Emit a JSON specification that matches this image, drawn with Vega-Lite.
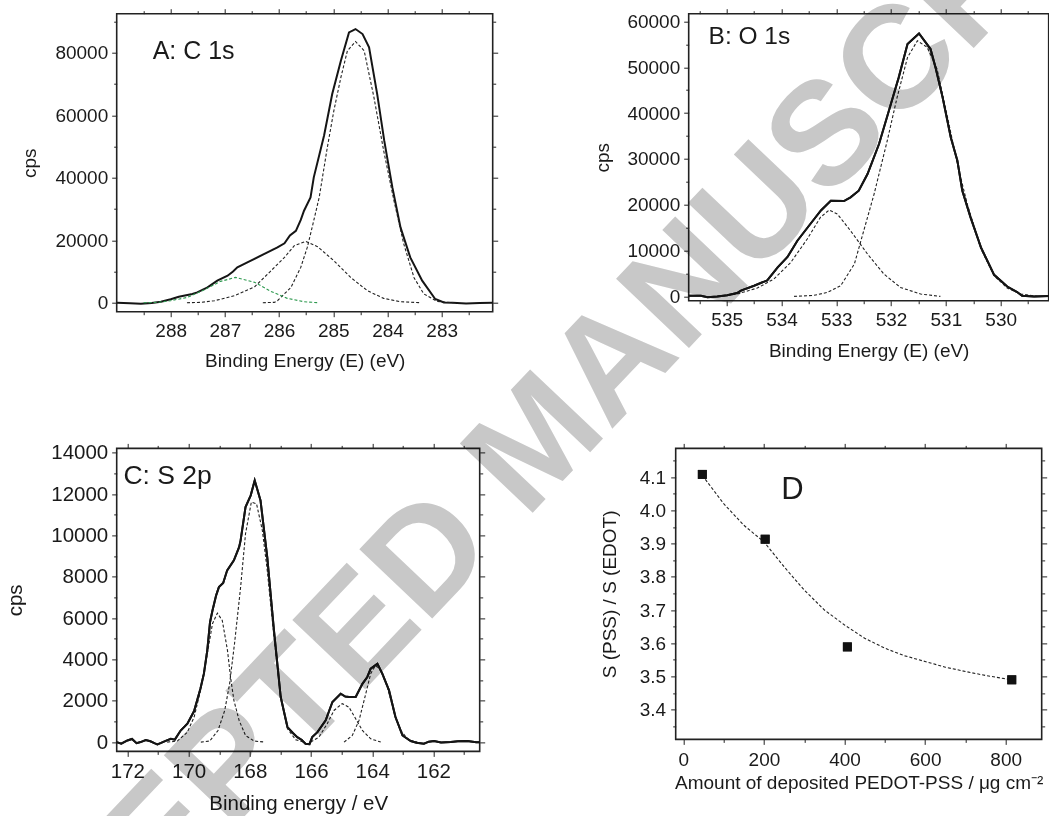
{
"$schema": "https://vega.github.io/schema/vega-lite/v6.json",
"background": "white",
"padding": {"left": -141.3, "top": -268.3, "right": -168.3, "bottom": -336},
"spacing": -640.3,
"align": "each",
"bounds": "full",
"config": {
  "font": "Liberation Sans",
  "view": {"stroke": "#222", "strokeWidth": 1.6},
  "axis": {"domain": false, "grid": false, "ticks": true, "tickColor": "#222", "tickWidth": 1, "tickSize": 5, "labelColor": "#1a1a1a", "titleColor": "#1a1a1a", "labelFontSize": 19, "titleFontSize": 19, "titleFontWeight": "normal", "labelFlush": false, "labelOverlap": false, "labelFont": "Liberation Sans", "titleFont": "Liberation Sans", "labelPadding": 4}
},
"datasets": {
  "a_tot": [{"e":288.99,"c":0},{"e":288.75,"c":-150},{"e":288.55,"c":-300},{"e":288.35,"c":-100},{"e":288.18,"c":320},{"e":288.0,"c":1100},{"e":287.85,"c":1900},{"e":287.76,"c":2240},{"e":287.6,"c":2800},{"e":287.51,"c":3300},{"e":287.32,"c":4900},{"e":287.14,"c":7040},{"e":286.95,"c":8640},{"e":286.85,"c":10000},{"e":286.77,"c":11300},{"e":286.52,"c":13440},{"e":286.28,"c":15570},{"e":286.03,"c":17700},{"e":285.9,"c":19000},{"e":285.8,"c":21500},{"e":285.69,"c":23000},{"e":285.6,"c":26500},{"e":285.54,"c":29440},{"e":285.42,"c":33700},{"e":285.36,"c":40100},{"e":285.17,"c":53500},{"e":285.02,"c":66770},{"e":284.86,"c":77440},{"e":284.71,"c":86500},{"e":284.59,"c":87570},{"e":284.46,"c":85970},{"e":284.34,"c":81700},{"e":284.19,"c":66770},{"e":284.06,"c":51840},{"e":283.91,"c":36900},{"e":283.76,"c":24100},{"e":283.58,"c":14500},{"e":283.36,"c":7040},{"e":283.12,"c":1170},{"e":282.96,"c":100},{"e":282.8,"c":0},{"e":282.55,"c":-250},{"e":282.3,"c":-100},{"e":282.06,"c":0}],
  "a_comp": [{"s":1,"e":286.3,"c":0},{"s":1,"e":286.09,"c":100},{"s":1,"e":286.03,"c":640},{"s":1,"e":285.78,"c":4900},{"s":1,"e":285.6,"c":11300},{"s":1,"e":285.48,"c":17700},{"s":1,"e":285.39,"c":24100},{"s":1,"e":285.26,"c":33700},{"s":1,"e":285.11,"c":49700},{"s":1,"e":284.99,"c":61400},{"s":1,"e":284.86,"c":72100},{"s":1,"e":284.74,"c":80600},{"s":1,"e":284.59,"c":83600},{"s":1,"e":284.43,"c":80600},{"s":1,"e":284.25,"c":65700},{"s":1,"e":284.07,"c":48600},{"s":1,"e":283.88,"c":32600},{"s":1,"e":283.7,"c":18800},{"s":1,"e":283.51,"c":8000},{"s":1,"e":283.33,"c":2800},{"s":1,"e":283.08,"c":400},{"s":1,"e":282.78,"c":0},
    {"s":2,"e":287.7,"c":0},{"s":2,"e":287.44,"c":100},{"s":2,"e":287.19,"c":640},{"s":2,"e":286.82,"c":2240},{"s":2,"e":286.45,"c":5120},{"s":2,"e":286.21,"c":9170},{"s":2,"e":285.9,"c":14500},{"s":2,"e":285.72,"c":18240},{"s":2,"e":285.51,"c":19630},{"s":2,"e":285.29,"c":17920},{"s":2,"e":284.99,"c":13440},{"s":2,"e":284.68,"c":8100},{"s":2,"e":284.37,"c":3840},{"s":2,"e":284.07,"c":1390},{"s":2,"e":283.76,"c":320},{"s":2,"e":283.39,"c":0}],
  "a_green": [{"e":288.5,"c":0},{"e":288.25,"c":100},{"e":288.0,"c":640},{"e":287.69,"c":1700},{"e":287.39,"c":4050},{"e":287.08,"c":6830},{"e":286.8,"c":8100},{"e":286.45,"c":6510},{"e":286.15,"c":3620},{"e":285.85,"c":1390},{"e":285.54,"c":320},{"e":285.29,"c":0}],
  "b_tot": [{"e":535.69,"c":150},{"e":535.47,"c":145},{"e":535.35,"c":-200},{"e":535.17,"c":0},{"e":534.99,"c":250},{"e":534.81,"c":730},{"e":534.74,"c":1250},{"e":534.5,"c":2330},{"e":534.26,"c":3500},{"e":534.07,"c":6330},{"e":533.89,"c":8600},{"e":533.71,"c":12150},{"e":533.47,"c":15850},{"e":533.28,"c":18750},{"e":533.1,"c":20870},{"e":532.86,"c":20800},{"e":532.74,"c":21600},{"e":532.59,"c":23060},{"e":532.43,"c":26700},{"e":532.22,"c":33240},{"e":532.04,"c":40520},{"e":531.86,"c":47790},{"e":531.7,"c":55060},{"e":531.49,"c":57380},{"e":531.28,"c":53970},{"e":531.19,"c":49970},{"e":531.06,"c":43420},{"e":530.91,"c":34690},{"e":530.79,"c":29600},{"e":530.7,"c":23060},{"e":530.55,"c":17240},{"e":530.36,"c":10690},{"e":530.12,"c":4700},{"e":529.88,"c":2150},{"e":529.7,"c":950},{"e":529.61,"c":145},{"e":529.39,"c":0},{"e":529.12,"c":70}],
  "b_comp": [{"s":1,"e":535.17,"c":0},{"s":1,"e":534.81,"c":510},{"s":1,"e":534.44,"c":1820},{"s":1,"e":534.14,"c":3780},{"s":1,"e":533.83,"c":7420},{"s":1,"e":533.53,"c":12510},{"s":1,"e":533.29,"c":17240},{"s":1,"e":533.13,"c":18840},{"s":1,"e":532.98,"c":17960},{"s":1,"e":532.74,"c":14330},{"s":1,"e":532.43,"c":9240},{"s":1,"e":532.13,"c":4870},{"s":1,"e":531.83,"c":1960},{"s":1,"e":531.46,"c":510},{"s":1,"e":531.1,"c":0},
    {"s":2,"e":533.77,"c":0},{"s":2,"e":533.41,"c":220},{"s":2,"e":533.16,"c":870},{"s":2,"e":532.92,"c":2330},{"s":2,"e":532.67,"c":7050},{"s":2,"e":532.55,"c":12150},{"s":2,"e":532.31,"c":22330},{"s":2,"e":532.07,"c":33960},{"s":2,"e":531.89,"c":43420},{"s":2,"e":531.7,"c":52150},{"s":2,"e":531.52,"c":55780},{"s":2,"e":531.34,"c":54330},{"s":2,"e":531.16,"c":49600},{"s":2,"e":530.97,"c":39060},{"s":2,"e":530.79,"c":28870},{"s":2,"e":530.61,"c":20150},{"s":2,"e":530.36,"c":10330},{"s":2,"e":530.12,"c":4510},{"s":2,"e":529.88,"c":1820},{"s":2,"e":529.63,"c":510},{"s":2,"e":529.33,"c":0}],
  "c_tot": [{"e":172.49,"c":80},{"e":172.35,"c":0},{"e":172.2,"c":-80},{"e":172.0,"c":80},{"e":171.85,"c":150},{"e":171.7,"c":-50},{"e":171.57,"c":0},{"e":171.4,"c":100},{"e":171.25,"c":40},{"e":171.1,"c":-60},{"e":171.02,"c":-110},{"e":170.9,"c":-40},{"e":170.75,"c":60},{"e":170.58,"c":160},{"e":170.45,"c":120},{"e":170.26,"c":560},{"e":170.04,"c":890},{"e":169.82,"c":1500},{"e":169.61,"c":2600},{"e":169.5,"c":3310},{"e":169.39,"c":4440},{"e":169.3,"c":5800},{"e":169.22,"c":6370},{"e":169.1,"c":7100},{"e":169.01,"c":7500},{"e":168.87,"c":7700},{"e":168.74,"c":8310},{"e":168.52,"c":8790},{"e":168.35,"c":9430},{"e":168.3,"c":9760},{"e":168.14,"c":11370},{"e":167.97,"c":11940},{"e":167.84,"c":12660},{"e":167.65,"c":11690},{"e":167.43,"c":8950},{"e":167.21,"c":5400},{"e":166.99,"c":2180},{"e":166.77,"c":726},{"e":166.6,"c":450},{"e":166.45,"c":240},{"e":166.3,"c":100},{"e":166.18,"c":-80},{"e":166.05,"c":-100},{"e":165.96,"c":240},{"e":165.79,"c":480},{"e":165.52,"c":1050},{"e":165.3,"c":1940},{"e":165.03,"c":2340},{"e":164.88,"c":2200},{"e":164.76,"c":2180},{"e":164.54,"c":2180},{"e":164.32,"c":2820},{"e":164.16,"c":3150},{"e":164.05,"c":3550},{"e":163.83,"c":3790},{"e":163.67,"c":3310},{"e":163.45,"c":2500},{"e":163.24,"c":1210},{"e":163.01,"c":320},{"e":162.74,"c":50},{"e":162.55,"c":-30},{"e":162.31,"c":-80},{"e":162.15,"c":20},{"e":161.98,"c":50},{"e":161.75,"c":-20},{"e":161.43,"c":0},{"e":161.2,"c":40},{"e":160.89,"c":50},{"e":160.6,"c":-10},{"e":160.36,"c":0}],
  "c_comp": [{"s":1,"e":170.7,"c":0},{"s":1,"e":170.37,"c":50},{"s":1,"e":170.04,"c":480},{"s":1,"e":169.82,"c":1210},{"s":1,"e":169.61,"c":2500},{"s":1,"e":169.39,"c":4270},{"s":1,"e":169.22,"c":5730},{"s":1,"e":169.06,"c":6240},{"s":1,"e":168.9,"c":5890},{"s":1,"e":168.73,"c":4440},{"s":1,"e":168.63,"c":3150},{"s":1,"e":168.52,"c":2020},{"s":1,"e":168.35,"c":1050},{"s":1,"e":168.14,"c":320},{"s":1,"e":167.86,"c":50},{"s":1,"e":167.5,"c":0},
    {"s":2,"e":169.6,"c":0},{"s":2,"e":169.31,"c":50},{"s":2,"e":169.04,"c":560},{"s":2,"e":168.82,"c":1530},{"s":2,"e":168.66,"c":2820},{"s":2,"e":168.5,"c":4760},{"s":2,"e":168.3,"c":7500},{"s":2,"e":168.14,"c":10080},{"s":2,"e":167.95,"c":11610},{"s":2,"e":167.78,"c":11530},{"s":2,"e":167.59,"c":10240},{"s":2,"e":167.43,"c":8310},{"s":2,"e":167.21,"c":5080},{"s":2,"e":166.99,"c":2180},{"s":2,"e":166.77,"c":650},{"s":2,"e":166.5,"c":110},{"s":2,"e":166.23,"c":0},
    {"s":3,"e":166.01,"c":0},{"s":3,"e":165.74,"c":240},{"s":3,"e":165.47,"c":890},{"s":3,"e":165.25,"c":1530},{"s":3,"e":164.98,"c":1860},{"s":3,"e":164.76,"c":1690},{"s":3,"e":164.54,"c":1130},{"s":3,"e":164.32,"c":560},{"s":3,"e":164.05,"c":160},{"s":3,"e":163.72,"c":0},
    {"s":4,"e":164.92,"c":0},{"s":4,"e":164.65,"c":320},{"s":4,"e":164.43,"c":1050},{"s":4,"e":164.21,"c":2340},{"s":4,"e":164.05,"c":3310},{"s":4,"e":163.89,"c":3710},{"s":4,"e":163.72,"c":3470},{"s":4,"e":163.5,"c":2660},{"s":4,"e":163.29,"c":1450},{"s":4,"e":163.07,"c":560},{"s":4,"e":162.8,"c":80},{"s":4,"e":162.52,"c":0}],
  "d_pts": [{"a":47,"r":4.108},{"a":203,"r":3.913},{"a":407,"r":3.589},{"a":815,"r":3.49}],
  "d_fit": [{"a":47,"r":4.105},{"a":100,"r":4.02},{"a":150,"r":3.955},{"a":200,"r":3.905},{"a":250,"r":3.83},{"a":300,"r":3.76},{"a":350,"r":3.70},{"a":400,"r":3.655},{"a":450,"r":3.615},{"a":500,"r":3.585},{"a":550,"r":3.562},{"a":600,"r":3.545},{"a":650,"r":3.528},{"a":700,"r":3.515},{"a":750,"r":3.503},{"a":815,"r":3.49}]
},
"vconcat": [
 {"hconcat": [
  {
    "width": 376, "height": 298,
    "layer": [
      {"data": {"name": "a_tot"}, "mark": {"type": "line", "color": "#151515", "strokeWidth": 2, "clip": true},
       "encoding": {
         "x": {"field": "e", "type": "quantitative", "scale": {"domain": [282.059, 288.996], "reverse": true, "nice": false, "zero": false},
               "axis": {"orient": "bottom", "values": [283,284,285,286,287,288], "format": "d", "title": "Binding Energy (E) (eV)", "labelPadding": 5, "titlePadding": 11}},
         "y": {"field": "c", "type": "quantitative", "scale": {"domain": [-2880, 92480], "nice": false, "zero": false},
               "axis": {"orient": "left", "values": [0,20000,40000,60000,80000], "format": "d", "title": "cps", "titlePadding": 15.7}}}},
      {"data": {"name": "a_comp"}, "mark": {"type": "line", "color": "#222", "strokeWidth": 1.1, "strokeDash": [3,2], "clip": true},
       "encoding": {
         "x": {"field": "e", "type": "quantitative", "scale": {"domain": [282.059, 288.996], "reverse": true, "nice": false, "zero": false},
               "axis": {"orient": "top", "values": [283,284,285,286,287,288], "labels": false, "title": null}},
         "y": {"field": "c", "type": "quantitative", "scale": {"domain": [-2880, 92480], "nice": false, "zero": false},
               "axis": {"orient": "right", "values": [0,20000,40000,60000,80000], "labels": false, "title": null}},
         "detail": {"field": "s"}}},
      {"data": {"name": "a_green"}, "mark": {"type": "line", "color": "#2f9a50", "strokeWidth": 1.1, "strokeDash": [3,2], "clip": true},
       "encoding": {
         "x": {"field": "e", "type": "quantitative", "scale": {"domain": [282.059, 288.996], "reverse": true, "nice": false, "zero": false},
               "axis": {"orient": "bottom", "values": [282.5,283.5,284.5,285.5,286.5,287.5,288.5], "labels": false, "tickSize": 3, "title": null}},
         "y": {"field": "c", "type": "quantitative", "scale": {"domain": [-2880, 92480], "nice": false, "zero": false},
               "axis": {"orient": "left", "values": [10000,30000,50000,70000,90000], "labels": false, "tickSize": 3, "title": null}}}},
      {"mark": {"type": "rule", "color": "#23234d", "strokeWidth": 1.5},
       "encoding": {"y": {"datum": 0, "type": "quantitative", "axis": null}}},
      {"data": {"values": [{"e": 288.332, "c": 78080, "t": "A: C 1s"}]},
       "mark": {"type": "text", "align": "left", "baseline": "alphabetic", "fontSize": 25, "font": "Liberation Sans", "color": "#1a1a1a"},
       "encoding": {
         "x": {"field": "e", "type": "quantitative", "scale": {"domain": [282.059, 288.996], "reverse": true, "nice": false, "zero": false},
               "axis": {"orient": "top", "values": [282.5,283.5,284.5,285.5,286.5,287.5,288.5], "labels": false, "tickSize": 3, "title": null}},
         "y": {"field": "c", "type": "quantitative", "scale": {"domain": [-2880, 92480], "nice": false, "zero": false},
               "axis": {"orient": "right", "values": [10000,30000,50000,70000,90000], "labels": false, "tickSize": 3, "title": null}},
         "text": {"field": "t"}}}
    ],
    "resolve": {"axis": {"x": "independent", "y": "independent"}}
  },
  {
    "width": 360, "height": 287,
    "layer": [
      {"data": {"name": "b_tot"}, "mark": {"type": "line", "color": "#151515", "strokeWidth": 2, "clip": true},
       "encoding": {
         "x": {"field": "e", "type": "quantitative", "scale": {"domain": [529.124, 535.693], "reverse": true, "nice": false, "zero": false},
               "axis": {"orient": "bottom", "values": [530,531,532,533,534,535], "format": "d", "title": "Binding Energy (E) (eV)", "labelPadding": 5, "titlePadding": 12}},
         "y": {"field": "c", "type": "quantitative", "scale": {"domain": [-940, 61680], "nice": false, "zero": false},
               "axis": {"orient": "left", "values": [0,10000,20000,30000,40000,50000,60000], "format": "d", "title": "cps", "titlePadding": 14.4}}}},
      {"data": {"name": "b_comp"}, "mark": {"type": "line", "color": "#222", "strokeWidth": 1.1, "strokeDash": [3,2], "clip": true},
       "encoding": {
         "x": {"field": "e", "type": "quantitative", "scale": {"domain": [529.124, 535.693], "reverse": true, "nice": false, "zero": false},
               "axis": {"orient": "top", "values": [530,531,532,533,534,535], "labels": false, "title": null}},
         "y": {"field": "c", "type": "quantitative", "scale": {"domain": [-940, 61680], "nice": false, "zero": false},
               "axis": {"orient": "right", "values": [0,10000,20000,30000,40000,50000,60000], "labels": false, "title": null}},
         "detail": {"field": "s"}}},
      {"mark": {"type": "rule", "color": "#222", "strokeWidth": 1},
       "encoding": {
         "y": {"datum": 0, "type": "quantitative", "scale": {"domain": [-940, 61680], "nice": false, "zero": false},
               "axis": {"orient": "left", "values": [5000,15000,25000,35000,45000,55000], "labels": false, "tickSize": 3, "title": null}}}},
      {"data": {"values": [{"e": 535.33, "c": 55135, "t": "B: O 1s"}]},
       "mark": {"type": "text", "align": "left", "baseline": "alphabetic", "fontSize": 24.5, "font": "Liberation Sans", "color": "#1a1a1a"},
       "encoding": {
         "x": {"field": "e", "type": "quantitative", "scale": {"domain": [529.124, 535.693], "reverse": true, "nice": false, "zero": false},
               "axis": {"orient": "top", "values": [529.5,530.5,531.5,532.5,533.5,534.5,535.5], "labels": false, "tickSize": 3, "title": null}},
         "y": {"field": "c", "type": "quantitative", "scale": {"domain": [-940, 61680], "nice": false, "zero": false},
               "axis": {"orient": "right", "values": [5000,15000,25000,35000,45000,55000], "labels": false, "tickSize": 3, "title": null}},
         "text": {"field": "t"}}},
      {"data": {"name": "b_tot"}, "mark": {"type": "line", "color": "#151515", "strokeWidth": 2, "clip": true},
       "encoding": {
         "x": {"field": "e", "type": "quantitative", "scale": {"domain": [529.124, 535.693], "reverse": true, "nice": false, "zero": false},
               "axis": {"orient": "bottom", "values": [529.5,530.5,531.5,532.5,533.5,534.5,535.5], "labels": false, "tickSize": 3, "title": null}},
         "y": {"field": "c", "type": "quantitative", "scale": {"domain": [-940, 61680], "nice": false, "zero": false}, "axis": null}}}
    ],
    "resolve": {"axis": {"x": "independent", "y": "independent"}}
  }
 ], "spacing": 196, "bounds": "flush"},
 {"hconcat": [
  {
    "width": 363, "height": 303,
    "layer": [
      {"data": {"name": "c_tot"}, "mark": {"type": "line", "color": "#151515", "strokeWidth": 2, "clip": true},
       "encoding": {
         "x": {"field": "e", "type": "quantitative", "scale": {"domain": [160.487, 172.35], "reverse": true, "nice": false, "zero": false},
               "axis": {"orient": "bottom", "values": [162,164,166,168,170,172], "format": "d", "title": "Binding energy / eV", "labelFontSize": 20.5, "titleFontSize": 20.5, "labelPadding": 5, "titlePadding": 12}},
         "y": {"field": "c", "type": "quantitative", "scale": {"domain": [-450, 14209], "nice": false, "zero": false},
               "axis": {"orient": "left", "values": [0,2000,4000,6000,8000,10000,12000,14000], "format": "d", "title": "cps", "labelFontSize": 20.5, "titleFontSize": 20.5, "titlePadding": 24.8}}}},
      {"data": {"name": "c_comp"}, "mark": {"type": "line", "color": "#222", "strokeWidth": 1.1, "strokeDash": [3,2], "clip": true},
       "encoding": {
         "x": {"field": "e", "type": "quantitative", "scale": {"domain": [160.487, 172.35], "reverse": true, "nice": false, "zero": false},
               "axis": {"orient": "top", "values": [162,164,166,168,170,172], "labels": false, "title": null}},
         "y": {"field": "c", "type": "quantitative", "scale": {"domain": [-450, 14209], "nice": false, "zero": false},
               "axis": {"orient": "right", "values": [0,2000,4000,6000,8000,10000,12000,14000], "labels": false, "title": null}},
         "detail": {"field": "s"}}},
      {"mark": {"type": "rule", "color": "#222", "strokeWidth": 1},
       "encoding": {
         "y": {"datum": 0, "type": "quantitative", "scale": {"domain": [-450, 14209], "nice": false, "zero": false},
               "axis": {"orient": "left", "values": [1000,3000,5000,7000,9000,11000,13000], "labels": false, "tickSize": 3, "title": null}}}},
      {"data": {"values": [{"e": 172.13, "c": 12501, "t": "C: S 2p"}]},
       "mark": {"type": "text", "align": "left", "baseline": "alphabetic", "fontSize": 26.5, "font": "Liberation Sans", "color": "#1a1a1a"},
       "encoding": {
         "x": {"field": "e", "type": "quantitative", "scale": {"domain": [160.487, 172.35], "reverse": true, "nice": false, "zero": false},
               "axis": {"orient": "top", "values": [161,163,165,167,169,171], "labels": false, "tickSize": 3, "title": null}},
         "y": {"field": "c", "type": "quantitative", "scale": {"domain": [-450, 14209], "nice": false, "zero": false},
               "axis": {"orient": "right", "values": [1000,3000,5000,7000,9000,11000,13000], "labels": false, "tickSize": 3, "title": null}},
         "text": {"field": "t"}}},
      {"data": {"name": "c_tot"}, "mark": {"type": "line", "color": "#151515", "strokeWidth": 2, "clip": true},
       "encoding": {
         "x": {"field": "e", "type": "quantitative", "scale": {"domain": [160.487, 172.35], "reverse": true, "nice": false, "zero": false},
               "axis": {"orient": "bottom", "values": [161,163,165,167,169,171], "labels": false, "tickSize": 3, "title": null}},
         "y": {"field": "c", "type": "quantitative", "scale": {"domain": [-450, 14209], "nice": false, "zero": false}, "axis": null}}}
    ],
    "resolve": {"axis": {"x": "independent", "y": "independent"}}
  },
  {
    "width": 366, "height": 291,
    "layer": [
      {"data": {"name": "d_fit"}, "mark": {"type": "line", "color": "#222", "strokeWidth": 1.1, "strokeDash": [3,2]},
       "encoding": {
         "x": {"field": "a", "type": "quantitative", "scale": {"domain": [-19.1, 889.3], "nice": false, "zero": false},
               "axis": {"orient": "top", "values": [0,200,400,600,800], "labels": false, "title": null}},
         "y": {"field": "r", "type": "quantitative", "scale": {"domain": [3.3107, 4.1863], "nice": false, "zero": false},
               "axis": {"orient": "right", "values": [3.4,3.5,3.6,3.7,3.8,3.9,4.0,4.1], "labels": false, "title": null}}}},
      {"data": {"name": "d_pts"}, "mark": {"type": "square", "size": 80, "color": "#111", "filled": true, "opacity": 1},
       "encoding": {
         "x": {"field": "a", "type": "quantitative", "scale": {"domain": [-19.1, 889.3], "nice": false, "zero": false},
               "axis": {"orient": "bottom", "values": [0,200,400,600,800], "format": "d", "title": "Amount of deposited PEDOT-PSS / μg cm⁻²", "labelPadding": 6, "titlePadding": 4}},
         "y": {"field": "r", "type": "quantitative", "scale": {"domain": [3.3107, 4.1863], "nice": false, "zero": false},
               "axis": {"orient": "left", "values": [3.4,3.5,3.6,3.7,3.8,3.9,4.0,4.1], "format": ".1f", "title": "S (PSS) / S (EDOT)", "labelPadding": 5, "titlePadding": 19.6}}}},
      {"data": {"name": "d_pts"}, "mark": {"type": "square", "size": 80, "color": "#111", "filled": true, "opacity": 1},
       "encoding": {
         "x": {"field": "a", "type": "quantitative", "scale": {"domain": [-19.1, 889.3], "nice": false, "zero": false},
               "axis": {"orient": "bottom", "values": [100,300,500,700], "labels": false, "tickSize": 3, "title": null}},
         "y": {"field": "r", "type": "quantitative", "scale": {"domain": [3.3107, 4.1863], "nice": false, "zero": false},
               "axis": {"orient": "left", "values": [3.35,3.45,3.55,3.65,3.75,3.85,3.95,4.05,4.15], "labels": false, "tickSize": 3, "title": null}}}},
      {"data": {"values": [{"a": 243, "r": 4.035, "t": "D"}]},
       "mark": {"type": "text", "align": "left", "baseline": "alphabetic", "fontSize": 31, "font": "Liberation Sans", "color": "#1a1a1a"},
       "encoding": {
         "x": {"field": "a", "type": "quantitative", "scale": {"domain": [-19.1, 889.3], "nice": false, "zero": false},
               "axis": {"orient": "top", "values": [100,300,500,700], "labels": false, "tickSize": 3, "title": null}},
         "y": {"field": "r", "type": "quantitative", "scale": {"domain": [3.3107, 4.1863], "nice": false, "zero": false},
               "axis": {"orient": "right", "values": [3.35,3.45,3.55,3.65,3.75,3.85,3.95,4.05,4.15], "labels": false, "tickSize": 3, "title": null}},
         "text": {"field": "t"}}},
      {"data": {"values": [{"a": -359.2, "r": 4.2044, "t": "ACCEPTED MANUSCRIPT"}]},
       "mark": {"type": "text", "align": "center", "baseline": "middle", "angle": -46.5, "fontSize": 146, "fontWeight": "bold", "font": "Liberation Sans", "color": "#c8c8c8", "blend": "multiply"},
       "encoding": {
         "x": {"field": "a", "type": "quantitative", "scale": {"domain": [-19.1, 889.3], "nice": false, "zero": false}, "axis": null},
         "y": {"field": "r", "type": "quantitative", "scale": {"domain": [3.3107, 4.1863], "nice": false, "zero": false}, "axis": null},
         "text": {"field": "t"}}}
    ],
    "resolve": {"axis": {"x": "independent", "y": "independent"}}
  }
 ], "spacing": 196, "bounds": "flush"}
]
}
